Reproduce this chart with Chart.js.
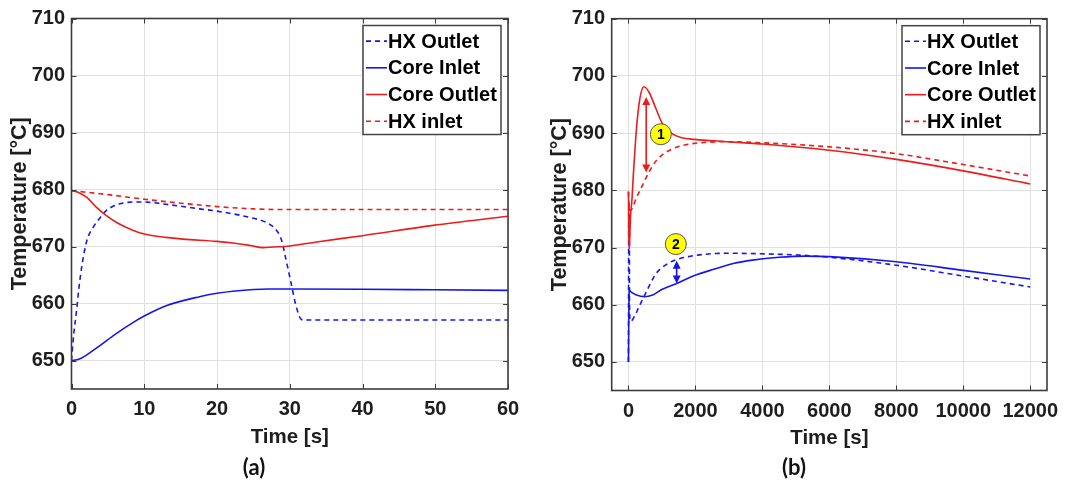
<!DOCTYPE html>
<html>
<head>
<meta charset="utf-8">
<script src="https://cdn.jsdelivr.net/npm/chart.js@4.4.1/dist/chart.umd.min.js"></script>
<style>
  html, body { margin: 0; padding: 0; background: #fff; }
  #wrap { position: relative; width: 1082px; height: 485px; overflow: hidden; }
  .panel { position: absolute; top: 0; width: 541px; height: 485px; }
</style>
</head>
<body>
<div id="wrap">
  <div class="panel" style="left:0"><canvas id="chartA" width="541" height="485"></canvas></div>
  <div class="panel" style="left:541px"><canvas id="chartB" width="541" height="485"></canvas></div>
</div>
<script>
// ---- tick labels ----
const Y_TICKS = [650, 660, 670, 680, 690, 700, 710];
const X_TICKS_A = [0, 10, 20, 30, 40, 50, 60];
const X_TICKS_B = [0, 2000, 4000, 6000, 8000, 10000, 12000];

// ---- series names (legend order) ----
const SERIES = ['HX Outlet', 'Core Inlet', 'Core Outlet', 'HX inlet'];

// ---- panel (a): first 60 s ----
const A_HXOUT_T = [0, 0.3, 0.7, 1.0, 1.4, 2.1, 3.0, 3.9, 4.7, 6.2, 8.5, 10, 13, 17.6, 20, 24.5, 26.8, 28.2, 28.9, 29.5, 30.2, 30.9, 31.6, 32, 60];
const A_HXOUT_V = [650, 654.5, 658.8, 662.5, 666.4, 671, 673.4, 675.0, 676.2, 677.3, 677.8, 677.8, 677.4, 676.6, 676.2, 675.1, 674.2, 672.8, 671, 667.6, 663.5, 659.4, 657.2, 657.1, 657.1];

const A_COREIN_T = [0, 1, 2, 4, 6, 8.5, 10, 13, 17.6, 20, 22.5, 25, 27, 30, 40, 50, 60];
const A_COREIN_V = [650, 650.2, 650.9, 652.7, 654.6, 656.7, 657.8, 659.6, 661.2, 661.8, 662.2, 662.45, 662.55, 662.55, 662.5, 662.4, 662.3];

const A_COREOUT_T = [0, 1.1, 2.1, 3.4, 4.8, 6.2, 8.5, 10, 13, 15.3, 20, 22.2, 24.5, 26.3, 27.7, 30, 33.7, 40, 49.7, 60];
const A_COREOUT_V = [679.8, 679.4, 678.6, 676.9, 675.4, 674.2, 672.8, 672.2, 671.6, 671.3, 670.9, 670.6, 670.2, 669.8, 669.9, 670.1, 670.8, 671.9, 673.7, 675.3];

const A_HXIN_T = [0, 5, 10, 15, 20, 25, 28, 60];
const A_HXIN_V = [679.8, 679.1, 678.3, 677.6, 677.0, 676.6, 676.5, 676.5];

// ---- panel (b): full transient ----
const B_HXOUT_T = [0, 10, 20, 28, 31, 60, 100, 200, 290, 530, 820, 1150, 1440, 1780, 2260, 2930, 4000, 5030, 6000, 8000, 10000, 12000];
const B_HXOUT_V = [650, 677.8, 676.2, 673, 660, 657.1, 657.2, 658.2, 659.3, 662.2, 665.4, 667.1, 667.9, 668.4, 668.8, 669, 668.9, 668.7, 668.3, 666.9, 665, 663.1];

const B_COREIN_T = [0, 5, 10, 20, 30, 60, 240, 480, 720, 1010, 1440, 1970, 2550, 3130, 3700, 4500, 5300, 6000, 8000, 10000, 12000];
const B_COREIN_V = [650, 653.5, 657.8, 661.8, 662.55, 662.3, 661.7, 661.4, 661.7, 662.7, 663.7, 665.1, 666.2, 667.2, 667.8, 668.3, 668.5, 668.4, 667.5, 666.0, 664.5];

const B_COREOUT_T = [0, 5, 10, 20, 27, 40, 60, 100, 150, 240, 340, 460, 620, 820, 1010, 1300, 1590, 1970, 2930, 3700, 4000, 6000, 8000, 10000, 12000];
const B_COREOUT_V = [679.8, 675.4, 672.2, 670.9, 669.8, 671.9, 675.3, 678, 683, 690.8, 696, 698.1, 697.1, 694.3, 691.7, 689.9, 689.2, 688.9, 688.5, 688.2, 688.1, 687, 685.4, 683.4, 681.1];

const B_HXIN_T = [0, 10, 20, 28, 60, 100, 240, 430, 625, 820, 1010, 1300, 1590, 1970, 2930, 4000, 6000, 8000, 10000, 12000];
const B_HXIN_V = [679.8, 678.3, 677, 676.5, 676.5, 676.7, 678.7, 681, 683.3, 685.1, 686.2, 687.2, 687.8, 688.2, 688.5, 688.3, 687.6, 686.4, 684.5, 682.5];

// ---- numbered callouts and difference arrows in panel (b), in data units ----
const NOTE_MARKS = [
  { x: 968, y: 689.8, text: '1' },
  { x: 1415, y: 670.6, text: '2' }
];
const NOTE_ARROWS = [
  { x: 530, from: 683.1, to: 696.3, series: 2 },
  { x: 1440, from: 663.7, to: 667.7, series: 1 }
];

// ---- styles ----
const BLUE = 'rgb(22, 22, 235)';
const RED = 'rgb(235, 28, 28)';
const AXIS_COLOR = '#3c3c3c';
const TEXT_COLOR = '#1e1e1e';
const GRID_COLOR = '#e0e0e0';
const FONT = '"Liberation Sans", Arial, sans-serif';
const DASH = [5, 4];

Chart.defaults.font.family = FONT;
Chart.defaults.color = TEXT_COLOR;

const pts = (t, v) => t.map((x, i) => ({ x, y: v[i] }));

function line(label, t, v, color, dashed) {
  return {
    label,
    data: pts(t, v),
    borderColor: color,
    backgroundColor: color,
    borderWidth: 1.6,
    borderDash: dashed ? DASH : [],
    pointRadius: 0,
    pointHoverRadius: 0,
    cubicInterpolationMode: 'monotone',
    fill: false,
    order: color === RED ? 0 : 1
  };
}

// axes box with inward tick marks
const framePlugin = {
  id: 'frame',
  afterDatasetsDraw(chart) {
    const { ctx, chartArea: a, scales } = chart;
    ctx.save();
    ctx.strokeStyle = AXIS_COLOR;
    ctx.lineWidth = 1;
    ctx.beginPath();
    scales.x.ticks.forEach(t => {
      const px = Math.round(scales.x.getPixelForValue(t.value)) + 0.5;
      ctx.moveTo(px, a.bottom); ctx.lineTo(px, a.bottom - 5);
      ctx.moveTo(px, a.top); ctx.lineTo(px, a.top + 5);
    });
    scales.y.ticks.forEach(t => {
      const py = Math.round(scales.y.getPixelForValue(t.value)) + 0.5;
      ctx.moveTo(a.left, py); ctx.lineTo(a.left + 5, py);
      ctx.moveTo(a.right, py); ctx.lineTo(a.right - 5, py);
    });
    ctx.stroke();
    ctx.lineWidth = 1.6;
    ctx.strokeRect(a.left, a.top, a.right - a.left, a.bottom - a.top);
    ctx.restore();
  }
};

// boxed legend in the upper right corner of the plot
const boxLegendPlugin = {
  id: 'boxLegend',
  afterDraw(chart) {
    const { ctx, chartArea: a } = chart;
    const w = 138, h = 109;
    const x0 = a.right - 7 - w, y0 = a.top + 7;
    ctx.save();
    ctx.fillStyle = '#fff';
    ctx.fillRect(x0, y0, w, h);
    ctx.strokeStyle = '#444';
    ctx.lineWidth = 1.5;
    ctx.strokeRect(x0, y0, w, h);
    ctx.font = 'bold 20px ' + FONT;
    ctx.textBaseline = 'middle';
    chart.data.datasets.forEach((ds, i) => {
      const cy = y0 + 15.6 + i * 26.7;
      ctx.strokeStyle = ds.borderColor;
      ctx.lineWidth = ds.borderWidth;
      ctx.setLineDash(ds.borderDash);
      ctx.beginPath();
      ctx.moveTo(x0 + 3, cy);
      ctx.lineTo(x0 + 24, cy);
      ctx.stroke();
      ctx.setLineDash([]);
      ctx.fillStyle = '#000';
      ctx.fillText(ds.label, x0 + 25, cy + 1);
    });
    ctx.restore();
  }
};

// numbered yellow callouts with double-headed arrows
const notesPlugin = {
  id: 'notes',
  afterDatasetsDraw(chart) {
    const { ctx, scales: { x, y } } = chart;
    ctx.save();
    NOTE_ARROWS.forEach(ar => {
      const color = chart.data.datasets[ar.series].borderColor;
      const px = x.getPixelForValue(ar.x);
      const yb = y.getPixelForValue(ar.from);
      const yt = y.getPixelForValue(ar.to);
      ctx.strokeStyle = color;
      ctx.fillStyle = color;
      ctx.lineWidth = 1.6;
      ctx.beginPath();
      ctx.moveTo(px, yt + 6); ctx.lineTo(px, yb - 6);
      ctx.stroke();
      ctx.beginPath();
      ctx.moveTo(px, yt); ctx.lineTo(px - 4, yt + 8); ctx.lineTo(px + 4, yt + 8); ctx.closePath();
      ctx.fill();
      ctx.beginPath();
      ctx.moveTo(px, yb); ctx.lineTo(px - 4, yb - 8); ctx.lineTo(px + 4, yb - 8); ctx.closePath();
      ctx.fill();
    });
    NOTE_MARKS.forEach(m => {
      const px = x.getPixelForValue(m.x);
      const py = y.getPixelForValue(m.y);
      ctx.beginPath();
      ctx.arc(px, py, 10.5, 0, Math.PI * 2);
      ctx.fillStyle = '#ffff00';
      ctx.fill();
      ctx.strokeStyle = '#555';
      ctx.lineWidth = 1;
      ctx.stroke();
      ctx.fillStyle = '#000';
      ctx.font = 'bold 14px ' + FONT;
      ctx.textAlign = 'center';
      ctx.textBaseline = 'middle';
      ctx.fillText(m.text, px, py + 1);
    });
    ctx.restore();
  }
};

function makeChart(canvasId, datasets, xTicks, xMin, xMax, layoutSpec, panelTag, extraPlugins) {
  return new Chart(document.getElementById(canvasId), {
    type: 'line',
    data: { datasets },
    options: {
      responsive: false,
      animation: false,
      devicePixelRatio: 1,
      layout: { padding: { left: 0, right: layoutSpec.right, top: 16, bottom: 0 } },
      plugins: {
        legend: { display: false },
        tooltip: { enabled: false },
        title: {
          display: true,
          position: 'bottom',
          text: panelTag,
          color: '#111',
          font: { family: 'Lato, ' + FONT, size: 22, weight: 'bold' },
          padding: { top: 6, bottom: 4 }
        }
      },
      scales: {
        x: {
          type: 'linear',
          min: xMin,
          max: xMax,
          afterBuildTicks: s => { s.ticks = xTicks.map(v => ({ value: v })); },
          afterFit: s => { s.height = layoutSpec.xHeight; },
          grid: { color: GRID_COLOR, lineWidth: 1, drawTicks: false },
          border: { display: false },
          ticks: {
            font: { size: 20, weight: 'bold' }, color: TEXT_COLOR, padding: layoutSpec.xTickPad,
            maxRotation: 0, autoSkip: false, callback: v => String(v)
          },
          title: {
            display: true, text: 'Time [s]', color: TEXT_COLOR,
            font: { size: 20.5, weight: 'bold', lineHeight: 1 },
            padding: { top: 0, bottom: layoutSpec.xTitlePad }
          }
        },
        y: {
          type: 'linear',
          min: 645,
          max: 710,
          afterBuildTicks: s => { s.ticks = Y_TICKS.map(v => ({ value: v })); },
          afterFit: s => { s.width = layoutSpec.yWidth; },
          grid: { color: GRID_COLOR, lineWidth: 1, drawTicks: false },
          border: { display: false },
          ticks: { font: { size: 20, weight: 'bold' }, color: TEXT_COLOR, padding: layoutSpec.yTickPad, callback: v => String(v) },
          title: {
            display: true, text: 'Temperature [°C]', color: TEXT_COLOR,
            font: { size: 21.5, weight: 'bold' },
            padding: { top: layoutSpec.yTitlePad, bottom: 0 }
          }
        }
      }
    },
    plugins: [...extraPlugins, framePlugin, boxLegendPlugin]
  });
}

makeChart('chartA', [
  line(SERIES[0], A_HXOUT_T, A_HXOUT_V, BLUE, true),
  line(SERIES[1], A_COREIN_T, A_COREIN_V, BLUE, false),
  line(SERIES[2], A_COREOUT_T, A_COREOUT_V, RED, false),
  line(SERIES[3], A_HXIN_T, A_HXIN_V, RED, true)
], X_TICKS_A, 0, 60,
  { right: 33, xHeight: 59.6, yWidth: 71.5, xTickPad: 8, xTitlePad: 1.4, yTickPad: 6.5, yTitlePad: 7.1 },
  '(a)', []);

makeChart('chartB', [
  line(SERIES[0], B_HXOUT_T, B_HXOUT_V, BLUE, true),
  line(SERIES[1], B_COREIN_T, B_COREIN_V, BLUE, false),
  line(SERIES[2], B_COREOUT_T, B_COREOUT_V, RED, false),
  line(SERIES[3], B_HXIN_T, B_HXIN_V, RED, true)
], X_TICKS_B, -500, 12500,
  { right: 35, xHeight: 58.1, yWidth: 70.7, xTickPad: 9, xTitlePad: 0.4, yTickPad: 6.7, yTitlePad: 6.1 },
  '(b)', [notesPlugin]);
</script>
</body>
</html>
